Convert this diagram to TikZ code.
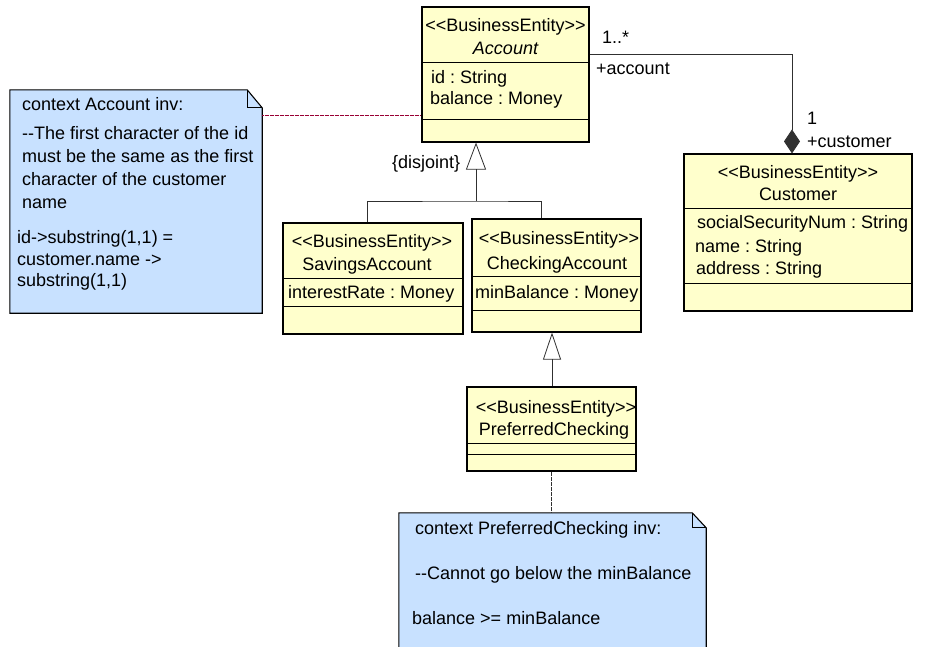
\documentclass[tikz,border=0pt]{standalone}
\usepackage{fontspec}
\setmainfont{Liberation Sans}[Ligatures=TeXOff]
\usetikzlibrary{arrows.meta}
\definecolor{classyellow}{HTML}{FFFFCC}
\definecolor{notefill}{HTML}{C8E1FF}
\definecolor{notered}{HTML}{990033}
\definecolor{linkgray}{HTML}{303030}
\newcommand{\umlfont}{\fontsize{18}{22}\selectfont}
\frenchspacing
\begin{document}
\begin{tikzpicture}[x=1pt, y=-1pt,
  classbox/.style={draw, fill=classyellow, line width=1.1pt, inner sep=0pt},
  noteshape/.style={inner sep=0pt},
  txt/.style={inner sep=0pt, text height=13pt, text depth=4pt, font=\umlfont},
  lt/.style={txt, anchor=west},
  link/.style={line width=0.8pt, draw=linkgray},
  gen/.style={link, -{Triangle[open, length=27pt, width=20pt]}}]
\useasboundingbox (0,0) rectangle (925,646);

% classes
\node[classbox, minimum width=167pt, minimum height=135pt] (account) at (505.5,74.5) {};
\node[classbox, minimum width=228pt, minimum height=157pt] (customer) at (798,232.5) {};
\node[classbox, minimum width=180pt, minimum height=111pt] (savings) at (373,278.5) {};
\node[classbox, minimum width=169pt, minimum height=113pt] (checking) at (556.5,275.5) {};
\node[classbox, minimum width=169pt, minimum height=84pt] (preferred) at (551.5,429) {};

% compartments
\draw (account.west |- 0,62) -- (account.east |- 0,62);
\draw (account.west |- 0,119) -- (account.east |- 0,119);
\draw (customer.west |- 0,208) -- (customer.east |- 0,208);
\draw (customer.west |- 0,283) -- (customer.east |- 0,283);
\draw (savings.west |- 0,278) -- (savings.east |- 0,278);
\draw (savings.west |- 0,306) -- (savings.east |- 0,306);
\draw (checking.west |- 0,276) -- (checking.east |- 0,276);
\draw (checking.west |- 0,310) -- (checking.east |- 0,310);
\draw (preferred.west |- 0,443) -- (preferred.east |- 0,443);
\draw (preferred.west |- 0,454) -- (preferred.east |- 0,454);

% class texts
\node[txt] (acc-st) at (505.5,27) {<<BusinessEntity>>};
\node[txt, font=\umlfont\itshape] (acc-name) at (505.5,50) {Account};
\node[lt] (acc-id) at (431,79) {id : String};
\node[lt] (acc-bal) at (430,100) {balance : Money};

\node[txt] (cus-st) at (798,174) {<<BusinessEntity>>};
\node[txt] (cus-name) at (798,196) {Customer};
\node[lt] (cus-ssn) at (697,224) {socialSecurityNum : String};
\node[lt] (cus-nm) at (695,248) {name : String};
\node[lt] (cus-adr) at (696,270) {address : String};

\node[txt] (sav-st) at (372,243) {<<BusinessEntity>>};
\node[txt] (sav-name) at (367,266) {SavingsAccount};
\node[lt] (sav-rate) at (288,294) {interestRate : Money};

\node[txt] (chk-st) at (559,240) {<<BusinessEntity>>};
\node[txt] (chk-name) at (557,265) {CheckingAccount};
\node[lt] (chk-min) at (475,294) {minBalance : Money};

\node[txt] (pre-st) at (556,409) {<<BusinessEntity>>};
\node[txt] (pre-name) at (554,431) {PreferredChecking};

% notes
\node[noteshape, minimum width=252pt, minimum height=223pt] (accnote) at (136,201.5) {};
\draw[fill=notefill, line width=1.1pt] (accnote.south west) -- (accnote.north west)
  -- ([xshift=-15pt]accnote.north east) -- ([yshift=-18pt]accnote.north east)
  -- (accnote.south east) -- cycle;
\draw[line width=0.8pt] ([xshift=-15pt]accnote.north east) -- ([xshift=-15pt,yshift=-18pt]accnote.north east)
  -- ([yshift=-18pt]accnote.north east);
\node[lt] (accnote-1) at (22,106) {context Account inv:};
\node[lt] (accnote-2) at (22,135) {--The first character of the id};
\node[lt] (accnote-3) at (22,158) {must be the same as the first};
\node[lt] (accnote-4) at (22,181) {character of the customer};
\node[lt] (accnote-5) at (22,204) {name};
\node[lt] (accnote-6) at (17,239) {id->substring(1,1) =};
\node[lt] (accnote-7) at (17,261) {customer.name ->};
\node[lt] (accnote-8) at (17,282) {substring(1,1)};

\node[noteshape, minimum width=307pt, minimum height=137pt] (prenote) at (552.5,581.5) {};
\fill[notefill] (prenote.south west) -- (prenote.north west)
  -- ([xshift=-14pt]prenote.north east) -- ([yshift=-15pt]prenote.north east)
  -- (prenote.south east) -- cycle;
\draw[line width=1.1pt] (prenote.south west) -- (prenote.north west)
  -- ([xshift=-14pt]prenote.north east) -- ([yshift=-15pt]prenote.north east)
  -- (prenote.south east);
\draw[line width=0.8pt] ([xshift=-14pt]prenote.north east) -- ([xshift=-14pt,yshift=-15pt]prenote.north east)
  -- ([yshift=-15pt]prenote.north east);
\node[lt] (prenote-1) at (415,530) {context PreferredChecking inv:};
\node[lt] (prenote-2) at (415,575) {--Cannot go below the minBalance};
\node[lt] (prenote-3) at (412,620) {balance >= minBalance};

% note links
\draw[notered, line width=1pt, dash pattern=on 2pt off 0.5pt] (accnote.east |- 0,115) -- (account.west |- 0,115);
\draw[linkgray, line width=1pt, dash pattern=on 2pt off 0.5pt] (preferred.south) -- (prenote.north -| preferred.south);

% association
\draw[link, -{Diamond[length=24pt, width=16pt]}] (account.east |- 0,54) -| (customer.north -| 792,0);
\node[lt] (mult-acc) at (602,39) {1..*};
\node[lt] (role-acc) at (596,70) {+account};
\node[lt] (mult-cus) at (807,120) {1};
\node[lt] (role-cus) at (807,143) {+customer};

% generalizations
\coordinate (gensplit) at (476,201);
\draw[link] (savings.north -| 367,0) |- (gensplit) -| (checking.north -| 541,0);
\draw[gen] (gensplit) -- (account.south -| gensplit);
\node[lt] (disjoint) at (392,164) {\{disjoint\}};
\draw[link, -{Triangle[open, length=27pt, width=18pt]}] (preferred.north -| 552,0) -- (checking.south -| 552,0);
\end{tikzpicture}
\end{document}
